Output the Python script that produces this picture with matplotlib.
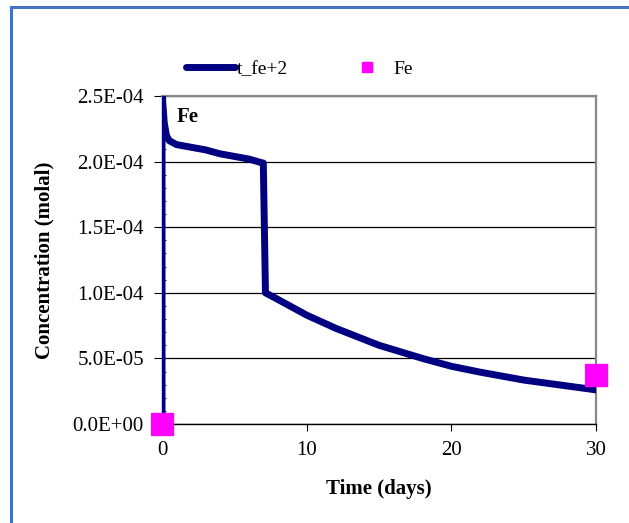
import numpy as np
import matplotlib
matplotlib.use("Agg")
import matplotlib.pyplot as plt
from matplotlib.ticker import MultipleLocator, FuncFormatter
from matplotlib.lines import Line2D

plt.rcParams['font.family'] = ['Liberation Serif', 'DejaVu Serif']

# simulated Fe+2 (days, molal)
t_days = [0.0, 0.0, 0.05, 0.15, 0.3, 0.5, 1.0, 2.0, 3.0, 4.0, 5.0, 6.0, 6.95,
          7.0, 7.15, 8.0, 10.0, 12.0, 15.0, 18.0, 20.0, 22.0, 25.0, 28.0, 30.0]
t_fe = [0.0, 2.6e-4, 2.45e-4, 2.3e-4, 2.2e-4, 2.16e-4, 2.13e-4, 2.11e-4,
        2.09e-4, 2.06e-4, 2.04e-4, 2.02e-4, 1.99e-4,
        1.99e-4, 1.0e-4, 9.5e-5, 8.3e-5, 7.3e-5, 6.0e-5, 5.0e-5, 4.4e-5,
        3.95e-5, 3.35e-5, 2.9e-5, 2.6e-5]

# measured Fe
obs_days = [0.0, 30.0]
obs_fe = [0.0, 3.7e-5]

fig = plt.figure(figsize=(6.29, 5.23), dpi=100)
ax = fig.add_axes([0.2576, 0.1893, 0.690, 0.627])

ax.plot(t_days, t_fe, color="#000080", lw=5, solid_joinstyle="round",
        zorder=3)
ax.plot(obs_days, obs_fe, "s", color="#FF00FF", ms=16, clip_on=False,
        zorder=4)

ax.set_xlim(0, 30)
ax.set_ylim(0, 2.5e-4)
ax.xaxis.set_major_locator(MultipleLocator(10))
ax.yaxis.set_major_locator(MultipleLocator(5e-5))
ax.yaxis.set_minor_locator(MultipleLocator(1e-5))
ax.yaxis.set_major_formatter(FuncFormatter(
    lambda v, p: "0.0E+00" if v == 0 else f"{v:.1E}"))
ax.tick_params(axis="x", which="major", direction="out", length=5, pad=7,
               labelsize=15)
ax.tick_params(axis="y", which="major", direction="out", length=6, pad=7,
               labelsize=15)
ax.tick_params(axis="y", which="minor", direction="in", length=3)
ax.grid(axis="y", which="major", color="black", lw=0.9)
ax.set_axisbelow(True)

for s in ("top", "right"):
    ax.spines[s].set_color("#888888")
    ax.spines[s].set_linewidth(1.6)
for s in ("left", "bottom"):
    ax.spines[s].set_color("black")
    ax.spines[s].set_linewidth(1.0)

ax.set_xlabel("Time (days)", fontsize=15, fontweight="bold", labelpad=14)
ax.set_ylabel("Concentration (molal)", fontsize=15, fontweight="bold",
              labelpad=13)
ax.text(1.04, 2.30e-4, "Fe", fontsize=15, fontweight="bold")

handles = [Line2D([], [], color="#000080", lw=5, solid_capstyle="round"),
           Line2D([], [], ls="", marker="s", color="#FF00FF", ms=7)]
fig.legend(handles, ["t_fe+2", "Fe"], loc="center",
           bbox_to_anchor=(0.476, 0.868), ncol=2, frameon=False,
           fontsize=14, handlelength=2.5, handletextpad=0.1,
           columnspacing=2.8)

# outer chart border (left and top edges visible)
fig.add_artist(Line2D([11 / 629, 11 / 629], [0, 1 - 7 / 523],
                      transform=fig.transFigure, color="#4472C4", lw=2.2))
fig.add_artist(Line2D([11 / 629, 1], [1 - 7 / 523, 1 - 7 / 523],
                      transform=fig.transFigure, color="#4472C4", lw=2.2))

fig.savefig("out.png", dpi=100)
